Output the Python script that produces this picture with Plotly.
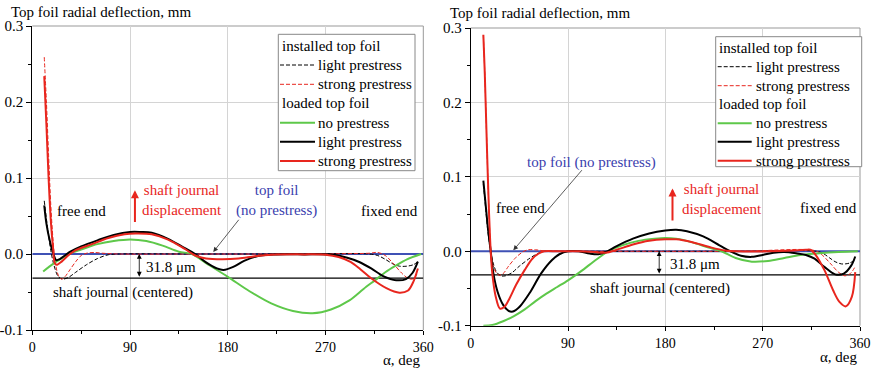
import plotly.graph_objects as go

# ---------------- data: left panel ----------------
L_inst_light_x = [11, 14, 17, 20, 24, 28, 33, 40, 50, 60, 70, 80, 150, 250, 310, 318, 325, 332, 338, 345, 351, 355]
L_inst_light_y = [0.070, 0.035, 0.005, -0.015, -0.030, -0.033, -0.031, -0.024, -0.014, -0.006, -0.001, 0.0, 0.0, 0.0, 0.0, -0.002, -0.007, -0.013, -0.016, -0.016, -0.014, -0.010]

L_inst_strong_x = [11, 13, 15, 17, 19, 21, 24, 27, 30, 35, 40, 45, 50, 57, 65, 80, 150, 250, 310, 318, 325, 332, 340, 346, 350, 353, 355]
L_inst_strong_y = [0.259, 0.200, 0.130, 0.065, 0.020, -0.010, -0.028, -0.033, -0.030, -0.020, -0.010, -0.002, 0.001, 0.002, 0.001, 0.0, 0.0, 0.0, 0.001, 0.002, -0.002, -0.012, -0.025, -0.032, -0.033, -0.029, -0.024]

L_none_x = [10, 20, 30, 35, 45, 60, 75, 90, 105, 120, 135, 147, 160, 180, 200, 220, 240, 258, 275, 292, 305, 316, 325, 335, 345, 358]
L_none_y = [-0.023, -0.012, -0.003, 0.001, 0.006, 0.013, 0.017, 0.019, 0.017, 0.011, 0.003, 0.0, -0.012, -0.030, -0.049, -0.065, -0.075, -0.078, -0.073, -0.061, -0.046, -0.034, -0.024, -0.015, -0.007, 0.0]

L_light_x = [11, 13, 16, 19, 22, 25, 30, 35, 45, 60, 75, 90, 100, 110, 125, 140, 150, 160, 170, 176, 185, 195, 210, 225, 250, 277, 290, 301, 312, 323, 335, 344, 350, 355]
L_light_y = [0.064, 0.040, 0.018, 0.002, -0.008, -0.007, -0.002, 0.003, 0.010, 0.018, 0.025, 0.029, 0.029, 0.028, 0.020, 0.008, 0.0, -0.011, -0.019, -0.021, -0.017, -0.009, -0.002, -0.0005, -0.0005, -0.001, -0.005, -0.0105, -0.019, -0.029, -0.0345, -0.033, -0.025, -0.010]

L_strong_x = [11, 13, 15, 17, 19, 21, 23, 27, 33, 40, 55, 70, 85, 95, 110, 125, 140, 150, 160, 175, 190, 205, 220, 250, 270, 282, 293, 302, 312, 326, 338, 346, 351, 355]
L_strong_y = [0.234, 0.170, 0.100, 0.045, 0.010, -0.013, -0.014, -0.010, -0.002, 0.005, 0.013, 0.021, 0.026, 0.027, 0.026, 0.019, 0.007, -0.002, -0.006, -0.007, -0.006, -0.003, -0.001, -0.0005, -0.001, -0.004, -0.0105, -0.020, -0.032, -0.045, -0.051, -0.048, -0.036, -0.019]

# ---------------- data: right panel ----------------
R_inst_light_x = [11.7, 14, 16, 18.5, 21, 24, 28, 32, 38, 45, 55, 62, 68, 80, 150, 250, 320, 326, 332, 337, 343, 350, 355]
R_inst_light_y = [0.090, 0.055, 0.025, 0.0, -0.017, -0.028, -0.033, -0.033, -0.029, -0.020, -0.009, -0.003, 0.0, 0.0, 0.0, 0.0, 0.0, -0.003, -0.009, -0.014, -0.017, -0.016, -0.012]

R_inst_strong_x = [11.7, 13, 15, 17, 19, 22, 26, 30, 35, 42, 48, 53, 60, 68, 80, 150, 250, 318, 325, 333, 340, 346, 351, 355]
R_inst_strong_y = [0.290, 0.240, 0.140, 0.050, -0.005, -0.025, -0.032, -0.030, -0.020, -0.008, -0.001, 0.002, 0.002, 0.0005, 0.0, 0.0, 0.0, 0.001, -0.005, -0.017, -0.028, -0.033, -0.030, -0.022]

R_none_x = [11.7, 20, 30, 40, 50, 60, 70, 80, 90, 100, 110, 120, 127, 140, 155, 170, 180, 190, 205, 220, 232, 245, 260, 275, 290, 305, 320, 340, 358]
R_none_y = [-0.100, -0.099, -0.094, -0.087, -0.078, -0.067, -0.057, -0.048, -0.039, -0.029, -0.018, -0.007, 0.0, 0.008, 0.014, 0.017, 0.018, 0.017, 0.012, 0.005, 0.0, -0.009, -0.014, -0.013, -0.009, -0.005, -0.003, -0.001, 0.0]

R_light_x = [11.7, 14, 16, 18.5, 21, 25, 30, 35, 39, 45, 55, 65, 75, 82, 90, 100, 110, 118, 125, 135, 150, 165, 180, 190, 200, 215, 230, 240, 250, 260, 270, 280, 290, 302, 310, 318, 327, 337, 345, 352, 355.6]
R_light_y = [0.095, 0.060, 0.030, 0.0, -0.030, -0.055, -0.072, -0.080, -0.081, -0.075, -0.055, -0.030, -0.012, -0.004, 0.0, 0.0, -0.003, -0.004, -0.001, 0.007, 0.017, 0.024, 0.028, 0.029, 0.027, 0.020, 0.008, 0.0, -0.006, -0.0075, -0.005, -0.002, -0.001, -0.003, -0.005, -0.010, -0.021, -0.031, -0.030, -0.019, -0.007]

R_strong_x = [11.7, 13, 15, 17, 18.5, 20, 23, 27, 31, 36, 42, 50, 57, 63, 68, 80, 100, 115, 125, 135, 150, 165, 180, 190, 205, 220, 235, 245, 300, 310, 314, 318, 327, 335, 341, 347, 352.5, 355.6]
R_strong_y = [0.291, 0.240, 0.140, 0.050, 0.0, -0.030, -0.060, -0.077, -0.075, -0.063, -0.045, -0.025, -0.010, -0.003, 0.0, 0.0, 0.0, -0.001, -0.002, 0.002, 0.009, 0.014, 0.016, 0.016, 0.012, 0.006, 0.001, 0.0, 0.001, 0.002, 0.002, -0.003, -0.025, -0.052, -0.068, -0.074, -0.061, -0.028]

# common reference lines
TOPFOIL_X = [0, 360]
TOPFOIL_Y = [0.0, 0.0]
SHAFT_X = [0, 360]
SHAFT_Y = [-0.0318, -0.0318]

Y_TICKS = [-0.1, 0.0, 0.1, 0.2, 0.3]
Y_TICKTEXT = ["-0.1", "0.0", "0.1", "0.2", "0.3"]
X_TICKS = [0, 90, 180, 270, 360]

LEGEND_ROWS = [
    ("installed top foil", None),
    ("light prestress", "inst_light"),
    ("strong prestress", "inst_strong"),
    ("loaded top foil", None),
    ("no prestress", "none"),
    ("light prestress", "light"),
    ("strong prestress", "strong"),
]

# ---------------- style ----------------
FONT = "Liberation Serif, Tinos, 'Times New Roman', 'DejaVu Serif', serif"
RED = "#e8261e"
GREEN = "#5ec84a"
BLUE = "#3f51b5"
BLUE_TXT = "#3a40ae"
GRID = "#d4d4d4"

STYLES = {
    "inst_light": dict(color="black", width=1, dash="4px,2px"),
    "inst_strong": dict(color=RED, width=1, dash="4px,2px"),
    "none": dict(color=GREEN, width=2),
    "light": dict(color="black", width=2),
    "strong": dict(color=RED, width=2),
}

W, H = 875, 370
fig = go.Figure()


def add_panel(xa, ya, series):
    fig.add_trace(go.Scatter(x=TOPFOIL_X, y=TOPFOIL_Y, mode="lines", line=dict(color=BLUE, width=2.2),
                             xaxis=xa, yaxis=ya, showlegend=False, hoverinfo="skip"))
    fig.add_trace(go.Scatter(x=SHAFT_X, y=SHAFT_Y, mode="lines", line=dict(color="black", width=1.2),
                             xaxis=xa, yaxis=ya, showlegend=False, hoverinfo="skip"))
    for key in ["inst_light", "inst_strong", "none", "light", "strong"]:
        xs, ys = series[key]
        fig.add_trace(go.Scatter(x=xs, y=ys, mode="lines",
                                 line=dict(shape="spline", smoothing=0.9, **STYLES[key]),
                                 xaxis=xa, yaxis=ya, showlegend=False))


add_panel("x", "y", {
    "inst_light": (L_inst_light_x, L_inst_light_y), "inst_strong": (L_inst_strong_x, L_inst_strong_y),
    "none": (L_none_x, L_none_y), "light": (L_light_x, L_light_y), "strong": (L_strong_x, L_strong_y)})
add_panel("x2", "y2", {
    "inst_light": (R_inst_light_x, R_inst_light_y), "inst_strong": (R_inst_strong_x, R_inst_strong_y),
    "none": (R_none_x, R_none_y), "light": (R_light_x, R_light_y), "strong": (R_strong_x, R_strong_y)})


def xaxis(domain, anchor):
    return dict(domain=domain, anchor=anchor, range=[0, 360], tickvals=X_TICKS, ticks="outside", ticklen=4,
                tickcolor="black", showline=True, linecolor="black", linewidth=1,
                showgrid=True, gridcolor=GRID, gridwidth=1, zeroline=False,
                tickfont=dict(family=FONT, size=14, color="black"),
                minor=dict(tickvals=[45, 135, 225, 315], ticks="outside", ticklen=3, tickcolor="black", showgrid=False))


def yaxis(domain, anchor):
    return dict(domain=domain, anchor=anchor, range=[-0.1, 0.3], tickvals=Y_TICKS, ticktext=Y_TICKTEXT,
                ticks="outside", ticklen=5, tickcolor="black", showline=True, linecolor="black", linewidth=1,
                showgrid=True, gridcolor=GRID, gridwidth=1, zeroline=False,
                tickfont=dict(family=FONT, size=15, color="black"),
                minor=dict(tickvals=[-0.05, 0.05, 0.15, 0.25], ticks="outside", ticklen=3, tickcolor="black", showgrid=False))


fig.update_layout(
    width=W, height=H, margin=dict(l=0, r=0, t=0, b=0, autoexpand=False),
    paper_bgcolor="white", plot_bgcolor="white",
    font=dict(family=FONT, size=15, color="black"),
    xaxis=xaxis([32.3 / W, 423.3 / W], "y"),
    yaxis=yaxis([(H - 330.0) / H, (H - 26.0) / H], "x"),
    xaxis2=xaxis([470.7 / W, 860.0 / W], "y2"),
    yaxis2=yaxis([(H - 325.7) / H, (H - 28.0) / H], "x2"),
    showlegend=False,
)


def px(xp):
    return xp / W


def py(yp):
    return (H - yp) / H


shapes = []
# gray frame on top / right of each plot area
for xr, yr in (("x domain", "y domain"), ("x2 domain", "y2 domain")):
    shapes.append(dict(type="line", xref=xr, yref=yr, x0=0, x1=1, y0=1, y1=1, line=dict(color="#999999", width=1), layer="below"))
    shapes.append(dict(type="line", xref=xr, yref=yr, x0=1, x1=1, y0=0, y1=1, line=dict(color="#999999", width=1), layer="below"))

ann = []


def txt(text, x, y, xref, yref, color="black", xanchor="center", yanchor="middle", align="center", size=15):
    ann.append(dict(text=text, x=x, y=y, xref=xref, yref=yref, showarrow=False, xanchor=xanchor,
                    yanchor=yanchor, align=align, font=dict(family=FONT, size=size, color=color)))


def arrow(xref, yref, x, y, ax, ay, color="black", width=1, head=2, size=1.0, side="end"):
    ann.append(dict(text="", x=x, y=y, ax=ax, ay=ay, xref=xref, yref=yref, axref=xref, ayref=yref,
                    showarrow=True, arrowhead=head, arrowsize=size, arrowwidth=width, arrowcolor=color,
                    arrowside=side, startarrowhead=head, startarrowsize=size))


# legend boxes (drawn in pixel geometry of the reference)
def legend_box(x0, y0, x1, y1, text_x, line_x0, line_x1, label_x, rows_y):
    shapes.append(dict(type="rect", xref="paper", yref="paper", x0=px(x0), x1=px(x1), y0=py(y0), y1=py(y1),
                       line=dict(color="#888888", width=1), fillcolor="white", layer="above"))
    for (label, key), ry in zip(LEGEND_ROWS, rows_y):
        if key is None:
            txt(label, px(text_x), py(ry), "paper", "paper", xanchor="left")
        else:
            st = STYLES[key]
            shapes.append(dict(type="line", xref="paper", yref="paper", x0=px(line_x0), x1=px(line_x1),
                               y0=py(ry), y1=py(ry), line=st, layer="above"))
            txt(label, px(label_x), py(ry), "paper", "paper", xanchor="left")


legend_box(278.3, 34.3, 415.0, 170.7, 279.5, 280.0, 315.0, 316.0, [45.7, 65.0, 84.3, 103.3, 122.7, 141.7, 161.0])
legend_box(715.7, 36.7, 861.7, 166.7, 717.0, 717.7, 751.7, 754.0, [48.3, 66.7, 85.7, 104.3, 123.3, 141.7, 160.7])

# titles
txt("Top foil radial deflection, mm", px(9), py(12), "paper", "paper", xanchor="left")
txt("Top foil radial deflection, mm", px(448), py(13), "paper", "paper", xanchor="left")
txt("α, deg", 1, py(370), "x domain", "paper", xanchor="right", yanchor="bottom")
txt("α, deg", 1, py(367), "x2 domain", "paper", xanchor="right", yanchor="bottom")

# left panel annotations
txt("free end", 45.5, 0.057, "x", "y")
txt("fixed end", 329.3, 0.057, "x", "y")
txt("shaft journal<br>displacement", 99, 0.071, "x", "y", color=RED, xanchor="left")
arrow("x", "y", 94.5, 0.084, 94.5, 0.040, color=RED, width=2, head=2, size=0.8)
txt("top foil<br>(no prestress)", 224.4, 0.071, "x", "y", color=BLUE_TXT)
arrow("x", "y", 166.6, 0.0026, 191.2, 0.047, color="#333333", width=0.8, head=2, size=1.2)
txt("31.8 μm", 102.8, -0.0175, "x", "y", xanchor="left")
arrow("x", "y", 98.5, 0.0, 98.5, -0.0318, width=0.8, head=2, size=1.2, side="end+start")
txt("shaft journal (centered)", 83.5, -0.051, "x", "y")

# right panel annotations
txt("free end", 45.6, 0.058, "x2", "y2")
txt("fixed end", 330.6, 0.058, "x2", "y2")
txt("shaft journal<br>displacement", 193.7, 0.070, "x2", "y2", color=RED, xanchor="left")
arrow("x2", "y2", 186.6, 0.0845, 186.6, 0.0394, color=RED, width=2, head=2, size=0.8)
txt("top foil (no prestress)", 112, 0.1196, "x2", "y2", color=BLUE_TXT)
arrow("x2", "y2", 39.4, 0.0013, 104, 0.111, color="#333333", width=0.8, head=2, size=1.2)
txt("31.8 μm", 182.8, -0.0175, "x2", "y2", xanchor="left")
arrow("x2", "y2", 174.3, 0.0, 174.3, -0.0318, width=0.8, head=2, size=1.2, side="end+start")
txt("shaft journal (centered)", 175.4, -0.050, "x2", "y2")

fig.update_layout(annotations=ann, shapes=shapes)

# the page body has a default 8px margin; remove it so the figure sits at the window origin
fig.write_html("out.html", config={"displayModeBar": False},
               post_script="document.body.style.margin='0px';document.body.style.overflow='hidden';")
